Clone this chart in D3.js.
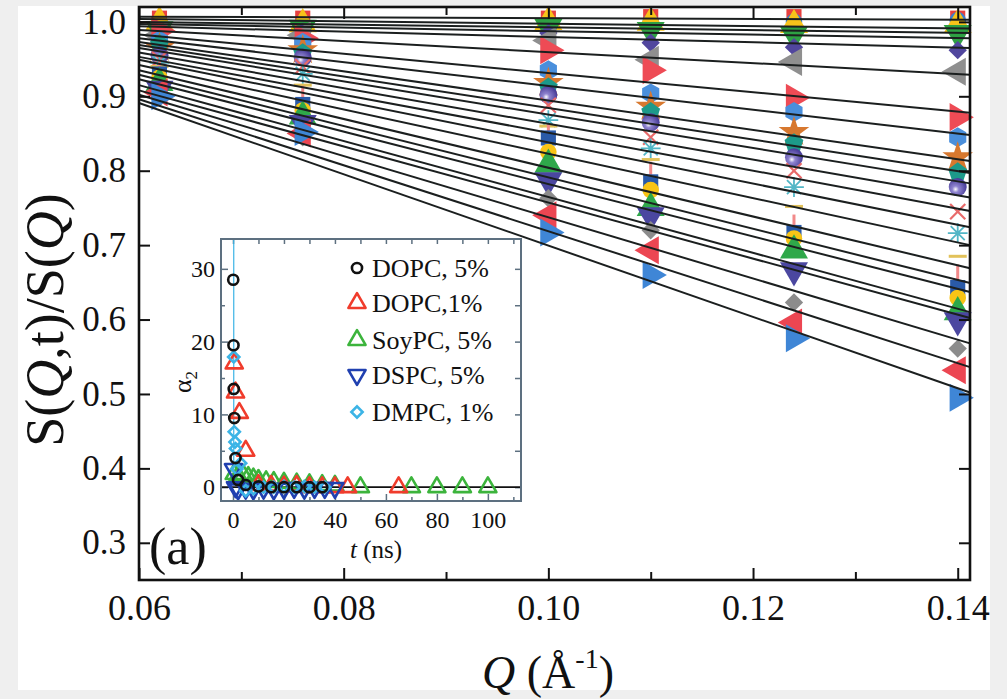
<!DOCTYPE html>
<html><head><meta charset="utf-8">
<script src="https://cdn.jsdelivr.net/npm/d3@7"></script>
<style>
html,body{margin:0;padding:0;background:#efefef;}
svg{display:block;font-family:"Liberation Serif","Times New Roman",serif;}
</style></head><body>
<svg id="chart" width="1007" height="699"></svg>
<script>
// ---------------- DATA ----------------
const qValues = [0.062, 0.076, 0.100, 0.110, 0.124, 0.140];
const s01 = [1.005, 1.005, 1.005, 1.007, 1.007, 1.005];
const s02 = [0.998, 0.995, 0.995, 1.000, 1.000, 1.002];
const s03 = [1.000, 0.997, 1.000, 0.999, 0.996, 0.996];
const s04 = [0.990, 0.992, 0.993, 0.989, 0.983, 0.985];
const s05 = [0.985, 0.987, 0.985, 0.972, 0.966, 0.962];
const s06 = [0.982, 0.982, 0.975, 0.949, 0.946, 0.933];
const s07 = [0.988, 0.978, 0.962, 0.935, 0.898, 0.872];
const s08 = [0.975, 0.972, 0.935, 0.904, 0.879, 0.845];
const s09 = [0.965, 0.962, 0.918, 0.886, 0.852, 0.818];
const s10 = [0.970, 0.958, 0.912, 0.879, 0.837, 0.798];
const s11 = [0.955, 0.952, 0.902, 0.865, 0.818, 0.778];
const s12 = [0.950, 0.940, 0.888, 0.845, 0.800, 0.745];
const s13 = [0.945, 0.930, 0.868, 0.830, 0.778, 0.716];
const s14 = [0.940, 0.915, 0.860, 0.815, 0.752, 0.685];
const s15 = [0.935, 0.902, 0.852, 0.800, 0.729, 0.662];
const s16 = [0.930, 0.889, 0.844, 0.785, 0.717, 0.643];
const s17 = [0.925, 0.881, 0.825, 0.774, 0.709, 0.629];
const s18 = [0.918, 0.873, 0.808, 0.750, 0.693, 0.610];
const s19 = [0.910, 0.864, 0.787, 0.740, 0.666, 0.599];
const s20 = [0.898, 0.845, 0.763, 0.720, 0.623, 0.561];
const s21 = [0.905, 0.850, 0.740, 0.693, 0.596, 0.532];
const s22 = [0.900, 0.852, 0.717, 0.660, 0.575, 0.495];
const seriesValues = [s01,s02,s03,s04,s05,s06,s07,s08,s09,s10,s11,s12,s13,s14,s15,s16,s17,s18,s19,s20,s21,s22];

// fit lines: value at Q = 0.06 and at Q = 0.1412
const fitQ = [0.06, 0.1412];
const fitStart = [1.007,1.004,1.000,0.997,0.994,0.989,0.983,0.978,0.973,0.969,0.965,0.959,0.953,0.949,0.942,0.935,0.929,0.923,0.915,0.908,0.902,0.896,0.891];
const fitEnd   = [1.003,0.991,0.985,0.978,0.965,0.929,0.878,0.848,0.813,0.797,0.783,0.764,0.746,0.724,0.700,0.669,0.649,0.637,0.610,0.602,0.568,0.536,0.502];

const xTicks = [0.06, 0.08, 0.10, 0.12, 0.14];
const xMinorTicks = [0.07, 0.09, 0.11, 0.13];
const yTicks = [0.3, 0.4, 0.5, 0.6, 0.7, 0.8, 0.9, 1.0];

// inset (alpha_2 vs t)
const insetNames = ["DOPC, 5%", "DOPC,1%", "SoyPC, 5%", "DSPC, 5%", "DMPC, 1%"];
const dopc5T = [0.1, 0.2, 0.3, 0.5, 1, 2, 5, 10, 15, 20, 25, 30, 35];
const dopc5A = [28.5, 19.5, 13.5, 9.5, 4, 1.0, 0.3, 0.1, 0, 0, 0, 0, 0];
const dopc1T = [0.5, 1, 2.5, 5, 10, 15, 20, 25, 30, 35, 40, 45, 65];
const dopc1A = [17, 13, 10.2, 5, 0.3, 0.2, 0.1, 0.2, 0, 0, 0, 0, 0];
const soyT = [0.5, 2, 4, 6, 8, 10, 13, 16, 20, 25, 30, 35, 40, 50, 70, 80, 90, 100];
const soyA = [1.8, 1.6, 1.7, 1.4, 1.2, 1.0, 0.8, 0.7, 0.6, 0.5, 0.4, 0.3, 0.2, 0, 0, 0, 0, 0];
const dspcT = [0.2, 1, 2, 5, 8, 12, 16, 20, 24, 28, 32, 36, 40];
const dspcA = [2.5, 0, -0.3, -0.2, -0.3, -0.2, -0.3, -0.2, -0.1, -0.2, -0.1, -0.1, -0.1];
const dmpcT = [0.3, 0.5, 0.8, 1.0, 1.5, 3, 5, 8, 12, 16, 20, 24, 28, 32, 36];
const dmpcA = [17.9, 7.6, 6.2, 5.3, 2.5, 3.3, -0.5, -0.2, 0, 0, 0.1, 0, 0.1, 0, 0];
const dmpcErr = [17, 0, 0, 0, 0, 0, 0, 0, 0, 0, 0, 0, 0, 0, 0];
const insetXTicks = [0, 20, 40, 60, 80, 100];
const insetXMinor = [10, 30, 50, 70, 90, 110];
const insetYTicks = [0, 10, 20, 30];
const insetYMinor = [5, 15, 25];

// ---------------- STYLES ----------------
const FONT = "'Liberation Serif','Times New Roman',serif";
const seriesShapes = ["square","circle","triUp","triDown","diamond","triLeft","triRight","hexagon","star","pentagon","sphere","cross","asterisk","hbar","vbar","square","circle","triUp","triDown","diamond","triLeft","triRight"];
const seriesColors = ["#e8413f","#3a7fd0","#f7c31a","#2ea043","#51469e","#8f8f8f","#ee4b55","#4a8fdc","#d7782f","#1d9a8a","#5a4aa8","#e86a6a","#52b6c6","#e2c25a","#f28a8a","#2a5aa8","#f9c416","#2fa84a","#4b47a0","#8c8c8c","#ec4652","#3f86d6"];
const insetColors = ["#111111","#f03c2c","#3cb43c","#2040b0","#3cb4e6"];
const insetShapes = ["circle","triUp","triUp","triDown","diamond"];

// ---------------- DRAW ----------------
const svg = d3.select("#chart");
svg.append("rect").attr("x",18).attr("y",6).attr("width",972).attr("height",684).attr("fill","#ffffff");

const defs = svg.append("defs");
const grad = defs.append("radialGradient").attr("id","sphereGrad").attr("cx","38%").attr("cy","62%").attr("r","60%");
grad.append("stop").attr("offset","0%").attr("stop-color","#ffffff");
grad.append("stop").attr("offset","30%").attr("stop-color","#8f84cf");
grad.append("stop").attr("offset","100%").attr("stop-color","#4a3e9a");

const M = {left:139, right:970, top:7, bottom:580};
const x = d3.scaleLinear().domain([0.06, 0.1412]).range([M.left, M.right]);
const y = d3.scaleLinear().domain([0.25, 1.02]).range([M.bottom, M.top]);

function polyPath(n, r, rot) {
  const pts = d3.range(n).map(i => {
    const a = rot + i * 2 * Math.PI / n;
    return [r * Math.cos(a), r * Math.sin(a)];
  });
  return "M" + pts.map(p => p.join(",")).join("L") + "Z";
}

function symbol(g, shape, color, cx, cy, s, filled, sw) {
  const t = `translate(${cx},${cy})`;
  const tri = d3.symbol().type(d3.symbolTriangle).size(s * s * 1.05)();
  const fill = filled ? color : "none";
  const stroke = filled ? "none" : color;
  switch (shape) {
    case "square":
      g.append("rect").attr("x", cx - s*0.42).attr("y", cy - s*0.42).attr("width", s*0.84).attr("height", s*0.84)
        .attr("fill", fill).attr("stroke", stroke).attr("stroke-width", sw); break;
    case "circle":
      g.append("circle").attr("cx", cx).attr("cy", cy).attr("r", s*0.46)
        .attr("fill", fill).attr("stroke", stroke).attr("stroke-width", sw); break;
    case "sphere":
      g.append("circle").attr("cx", cx).attr("cy", cy).attr("r", s*0.5).attr("fill", "url(#sphereGrad)"); break;
    case "triUp": case "triDown": case "triLeft": case "triRight": {
      const rot = {triUp:0, triDown:180, triLeft:-90, triRight:90}[shape];
      g.append("path").attr("d", tri).attr("transform", t + ` rotate(${rot})`)
        .attr("fill", fill).attr("stroke", stroke).attr("stroke-width", sw).attr("stroke-linejoin","round"); break; }
    case "diamond":
      g.append("rect").attr("x", -s*0.36).attr("y", -s*0.36).attr("width", s*0.72).attr("height", s*0.72)
        .attr("transform", t + " rotate(45)")
        .attr("fill", fill).attr("stroke", stroke).attr("stroke-width", sw); break;
    case "hexagon":
      g.append("path").attr("d", polyPath(6, s*0.55, -Math.PI/2)).attr("transform", t).attr("fill", fill); break;
    case "pentagon":
      g.append("path").attr("d", polyPath(5, s*0.55, -Math.PI/2)).attr("transform", t).attr("fill", fill); break;
    case "star":
      g.append("path").attr("d", d3.symbol().type(d3.symbolStar).size(s*s*0.9)()).attr("transform", t).attr("fill", fill); break;
    case "cross": {
      const h = s*0.42;
      g.append("path").attr("d", `M${-h},${-h}L${h},${h}M${-h},${h}L${h},${-h}`).attr("transform", t)
        .attr("stroke", color).attr("stroke-width", 2.2).attr("fill","none"); break; }
    case "asterisk": {
      const h = s*0.55; let d = "";
      for (let k = 0; k < 4; k++) { const a = k*Math.PI/4; d += `M${-h*Math.cos(a)},${-h*Math.sin(a)}L${h*Math.cos(a)},${h*Math.sin(a)}`; }
      g.append("path").attr("d", d).attr("transform", t).attr("stroke", color).attr("stroke-width", 1.8).attr("fill","none"); break; }
    case "hbar":
      g.append("path").attr("d", `M${-s*0.5},0L${s*0.5},0`).attr("transform", t).attr("stroke", color).attr("stroke-width", 3); break;
    case "vbar":
      g.append("path").attr("d", `M0,${-s*0.5}L0,${s*0.5}`).attr("transform", t).attr("stroke", color).attr("stroke-width", 3); break;
  }
}

// markers (main)
const gMarks = svg.append("g");
seriesValues.forEach((vals, i) => {
  vals.forEach((v, j) => {
    symbol(gMarks, seriesShapes[i], seriesColors[i], x(qValues[j]), y(v), 18, true, 0);
  });
});

// fit lines
const gLines = svg.append("g");
fitStart.forEach((v0, i) => {
  gLines.append("line")
    .attr("x1", x(fitQ[0])).attr("y1", y(v0))
    .attr("x2", x(fitQ[1])).attr("y2", y(fitEnd[i]))
    .attr("stroke", "#1b1f1f").attr("stroke-width", 2);
});

// axes
function styleAxis(g) {
  g.attr("font-family", FONT);
  g.select(".domain").remove();
  g.selectAll(".tick line").attr("stroke", "#111").attr("stroke-width", 2);
  g.selectAll(".tick text").attr("fill", "#111");
}
svg.append("g").attr("transform", `translate(0,${M.bottom})`)
  .call(d3.axisBottom(x).tickValues(xTicks).tickFormat(d3.format(".2f")).tickSizeInner(-12).tickSizeOuter(0).tickPadding(14))
  .call(styleAxis).selectAll("text").attr("font-size", 36);
svg.append("g").attr("transform", `translate(0,${M.bottom})`)
  .call(d3.axisBottom(x).tickValues(xMinorTicks).tickFormat("").tickSizeInner(-8).tickSizeOuter(0)).call(styleAxis);
svg.append("g").attr("transform", `translate(0,${M.top})`)
  .call(d3.axisTop(x).tickValues(xTicks).tickFormat("").tickSizeInner(-12).tickSizeOuter(0)).call(styleAxis);
svg.append("g").attr("transform", `translate(0,${M.top})`)
  .call(d3.axisTop(x).tickValues(xMinorTicks).tickFormat("").tickSizeInner(-8).tickSizeOuter(0)).call(styleAxis);
svg.append("g").attr("transform", `translate(${M.left},0)`)
  .call(d3.axisLeft(y).tickValues(yTicks).tickFormat(d3.format(".1f")).tickSizeInner(-11).tickSizeOuter(0).tickPadding(13))
  .call(styleAxis).selectAll("text").attr("font-size", 35);
svg.append("g").attr("transform", `translate(${M.right},0)`)
  .call(d3.axisRight(y).tickValues(yTicks).tickFormat("").tickSizeInner(-11).tickSizeOuter(0)).call(styleAxis);

svg.append("rect").attr("x", M.left).attr("y", M.top).attr("width", M.right - M.left).attr("height", M.bottom - M.top)
  .attr("fill", "none").attr("stroke", "#111").attr("stroke-width", 2.6);

// axis titles
const yt = svg.append("text").attr("transform", `translate(63,320) rotate(-90)`).attr("text-anchor", "middle")
  .attr("font-size", 54).attr("fill", "#111");
yt.append("tspan").text("S(");
yt.append("tspan").attr("font-style", "italic").text("Q");
yt.append("tspan").text(",t)/S(");
yt.append("tspan").attr("font-style", "italic").text("Q");
yt.append("tspan").text(")");

const xt = svg.append("text").attr("x", 548).attr("y", 688).attr("text-anchor", "middle").attr("font-size", 46).attr("fill", "#111");
xt.append("tspan").attr("font-style", "italic").text("Q");
xt.append("tspan").text(" (Å");
xt.append("tspan").attr("font-size", 28).attr("dy", -20).text("-1");
xt.append("tspan").attr("dy", 20).text(")");

svg.append("text").attr("x", 149).attr("y", 564).attr("font-size", 52).attr("fill", "#111").text("(a)");

// ---------------- INSET ----------------
const I = {left:221, right:521, top:239, bottom:501};
const ix = d3.scaleLinear().domain([-4.7, 113]).range([I.left, I.right]);
const iy = d3.scaleLinear().domain([-1.9, 34.1]).range([I.bottom, I.top]);
const gi = svg.append("g");
gi.append("rect").attr("x", I.left).attr("y", I.top).attr("width", I.right - I.left).attr("height", I.bottom - I.top).attr("fill", "#fff");

function styleInset(g) {
  g.attr("font-family", FONT);
  g.select(".domain").remove();
  g.selectAll(".tick line").attr("stroke", "#5d7080").attr("stroke-width", 1.5);
  g.selectAll(".tick text").attr("fill", "#111").attr("font-size", 24);
}
gi.append("g").attr("transform", `translate(0,${I.bottom})`)
  .call(d3.axisBottom(ix).tickValues(insetXTicks).tickFormat(d3.format("d")).tickSizeInner(-7).tickSizeOuter(0).tickPadding(10)).call(styleInset);
gi.append("g").attr("transform", `translate(0,${I.bottom})`)
  .call(d3.axisBottom(ix).tickValues(insetXMinor).tickFormat("").tickSizeInner(-4).tickSizeOuter(0)).call(styleInset);
gi.append("g").attr("transform", `translate(0,${I.top})`)
  .call(d3.axisTop(ix).tickValues(insetXTicks.concat(insetXMinor)).tickFormat("").tickSizeInner(-5).tickSizeOuter(0)).call(styleInset);
gi.append("g").attr("transform", `translate(${I.left},0)`)
  .call(d3.axisLeft(iy).tickValues(insetYTicks).tickFormat(d3.format("d")).tickSizeInner(-7).tickSizeOuter(0).tickPadding(6)).call(styleInset);
gi.append("g").attr("transform", `translate(${I.left},0)`)
  .call(d3.axisLeft(iy).tickValues(insetYMinor).tickFormat("").tickSizeInner(-4).tickSizeOuter(0)).call(styleInset);
gi.append("g").attr("transform", `translate(${I.right},0)`)
  .call(d3.axisRight(iy).tickValues(insetYTicks.concat(insetYMinor)).tickFormat("").tickSizeInner(-6).tickSizeOuter(0)).call(styleInset);

// zero line
gi.append("line").attr("x1", I.left).attr("x2", I.right).attr("y1", iy(0)).attr("y2", iy(0)).attr("stroke", "#111").attr("stroke-width", 1.6);

// error bars (DMPC)
dmpcT.forEach((t, k) => {
  if (dmpcErr[k] > 0) {
    gi.append("line").attr("x1", ix(t)).attr("x2", ix(t))
      .attr("y1", Math.max(I.top, iy(dmpcA[k] + dmpcErr[k]))).attr("y2", iy(dmpcA[k] - dmpcErr[k]))
      .attr("stroke", "#3cb4e6").attr("stroke-width", 1.2);
  }
});

const insetT = [dopc5T, dopc1T, soyT, dspcT, dmpcT];
const insetA = [dopc5A, dopc1A, soyA, dspcA, dmpcA];
const drawOrder = [2, 1, 3, 4, 0];
drawOrder.forEach(k => {
  insetT[k].forEach((t, j) => {
    symbol(gi, insetShapes[k], insetColors[k], ix(t), iy(insetA[k][j]), 11, false, 2.6);
  });
});

gi.append("rect").attr("x", I.left).attr("y", I.top).attr("width", I.right - I.left).attr("height", I.bottom - I.top)
  .attr("fill", "none").attr("stroke", "#5d7080").attr("stroke-width", 2);

// legend
const legY = [268, 303, 340, 375, 412];
insetNames.forEach((name, k) => {
  symbol(gi, insetShapes[k], insetColors[k], 357, legY[k], 11, false, 2.6);
  gi.append("text").attr("x", 372).attr("y", legY[k] + 9).attr("font-size", 26).attr("fill", "#111").text(name);
});

// inset titles
const at = gi.append("text").attr("transform", `translate(191,382) rotate(-90)`).attr("text-anchor", "middle").attr("font-size", 26).attr("fill", "#111");
at.append("tspan").text("α");
at.append("tspan").attr("font-size", 17).attr("dy", 6).text("2");

const tt = gi.append("text").attr("x", 376).attr("y", 558).attr("text-anchor", "middle").attr("font-size", 25).attr("fill", "#111");
tt.append("tspan").attr("font-style", "italic").text("t");
tt.append("tspan").text(" (ns)");
</script>
</body></html>
